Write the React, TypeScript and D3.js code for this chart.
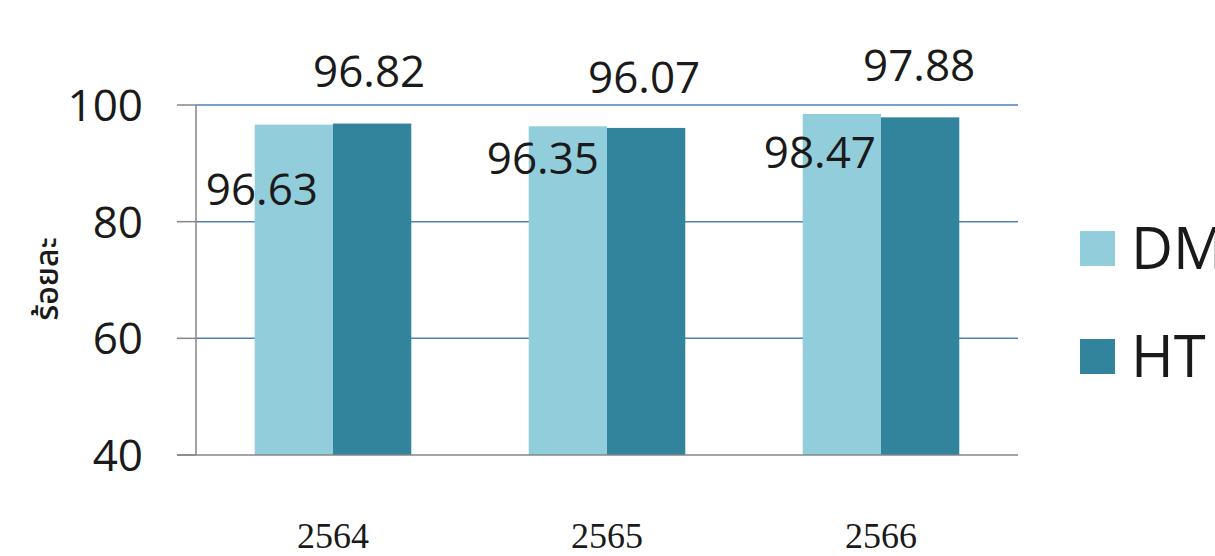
import React from "react";
import * as d3 from "d3";

const years = ["2564", "2565", "2566"];
const seriesNames = ["DM", "HT"];
const dmValues = [96.63, 96.35, 98.47];
const htValues = [96.82, 96.07, 97.88];
const yTicks = [40, 60, 80, 100];
const colors = ["#92CDDC", "#31849B"];
// manual label offsets (px) relative to bar center / bar top, as in the source
const dmLabelDx = [-32, -25, -22];
const dmLabelDy = [65, 32, 38];
const htLabelDx = [-3, -2, -1];
const htLabelDy = [-52, -51, -52];

const W = 1215;
const H = 556;
const left = 196;
const right = 1018;
const top = 105;
const bottom = 455;
const numFont = "'Open Sans', 'Noto Sans', sans-serif";

export default function App() {
  const y = d3.scaleLinear().domain([40, 100]).range([bottom, top]);
  const x0 = d3.scaleBand<string>().domain(years).range([left, right]).padding(0);
  const bw = x0.bandwidth();
  const barW = bw / 3.5;
  const x1 = d3
    .scaleBand<string>()
    .domain(seriesNames)
    .range([bw / 2 - barW, bw / 2 + barW])
    .padding(0);
  const values = [dmValues, htValues];

  return (
    <svg
      width={W}
      height={H}
      style={{ position: "absolute", left: 0, top: 0, background: "#fff" }}
    >
      {/* gridlines */}
      {yTicks
        .filter((t) => t !== 40)
        .map((t) => (
          <line
            key={"g" + t}
            x1={left}
            x2={right}
            y1={y(t)}
            y2={y(t)}
            stroke="#4F81BD"
            strokeWidth={1.5}
          />
        ))}
      {/* bars */}
      {years.map((yr, i) => (
        <g key={yr} transform={`translate(${x0(yr)},0)`}>
          {seriesNames.map((s, si) => (
            <rect
              key={s}
              x={x1(s)}
              y={y(values[si][i])}
              width={x1.bandwidth()}
              height={bottom - y(values[si][i])}
              fill={colors[si]}
            />
          ))}
        </g>
      ))}
      {/* axes */}
      <line x1={left} x2={left} y1={top} y2={bottom} stroke="#868686" strokeWidth={1.5} />
      <line x1={177} x2={right} y1={bottom} y2={bottom} stroke="#868686" strokeWidth={1.5} />
      {yTicks.map((t) => (
        <g key={"t" + t}>
          <line x1={177} x2={left} y1={y(t)} y2={y(t)} stroke="#868686" strokeWidth={1.5} />
          <text
            x={143}
            y={y(t)}
            dy="0.36em"
            textAnchor="end"
            fontFamily={numFont}
            fontSize={44}
            fill="#1a1a1a"
          >
            {t}
          </text>
        </g>
      ))}
      {/* x labels */}
      {years.map((yr) => (
        <text
          key={"x" + yr}
          x={(x0(yr) as number) + bw / 2}
          y={548}
          textAnchor="middle"
          fontFamily="'Liberation Serif', 'Times New Roman', serif"
          fontSize={36}
          fill="#1a1a1a"
        >
          {yr}
        </text>
      ))}
      {/* data labels */}
      {years.map((yr, i) => {
        const bx = x0(yr) as number;
        const dmCx = bx + (x1("DM") as number) + x1.bandwidth() / 2;
        const htCx = bx + (x1("HT") as number) + x1.bandwidth() / 2;
        return (
          <g key={"l" + yr} fontFamily={numFont} fontSize={44} fill="#1a1a1a" textAnchor="middle">
            <text x={dmCx + dmLabelDx[i]} y={y(dmValues[i]) + dmLabelDy[i]} dy="0.36em">
              {dmValues[i].toFixed(2)}
            </text>
            <text x={htCx + htLabelDx[i]} y={y(htValues[i]) + htLabelDy[i]} dy="0.36em">
              {htValues[i].toFixed(2)}
            </text>
          </g>
        );
      })}
      {/* y axis title */}
      <text
        transform="translate(58,279) rotate(-90)"
        textAnchor="middle"
        fontFamily="'Noto Sans Thai', 'Noto Sans', 'DejaVu Sans', sans-serif"
        fontWeight={500}
        fontSize={32}
        fill="#1a1a1a"
      >
        ร้อยละ
      </text>
      {/* legend */}
      {seriesNames.map((s, si) => (
        <g key={"lg" + s}>
          <rect x={1080} y={231 + si * 108} width={35} height={35} fill={colors[si]} />
          <text
            x={1131}
            y={248 + si * 108}
            dy="0.36em"
            fontFamily={numFont}
            fontSize={58}
            fill="#1a1a1a"
          >
            {s}
          </text>
        </g>
      ))}
    </svg>
  );
}
